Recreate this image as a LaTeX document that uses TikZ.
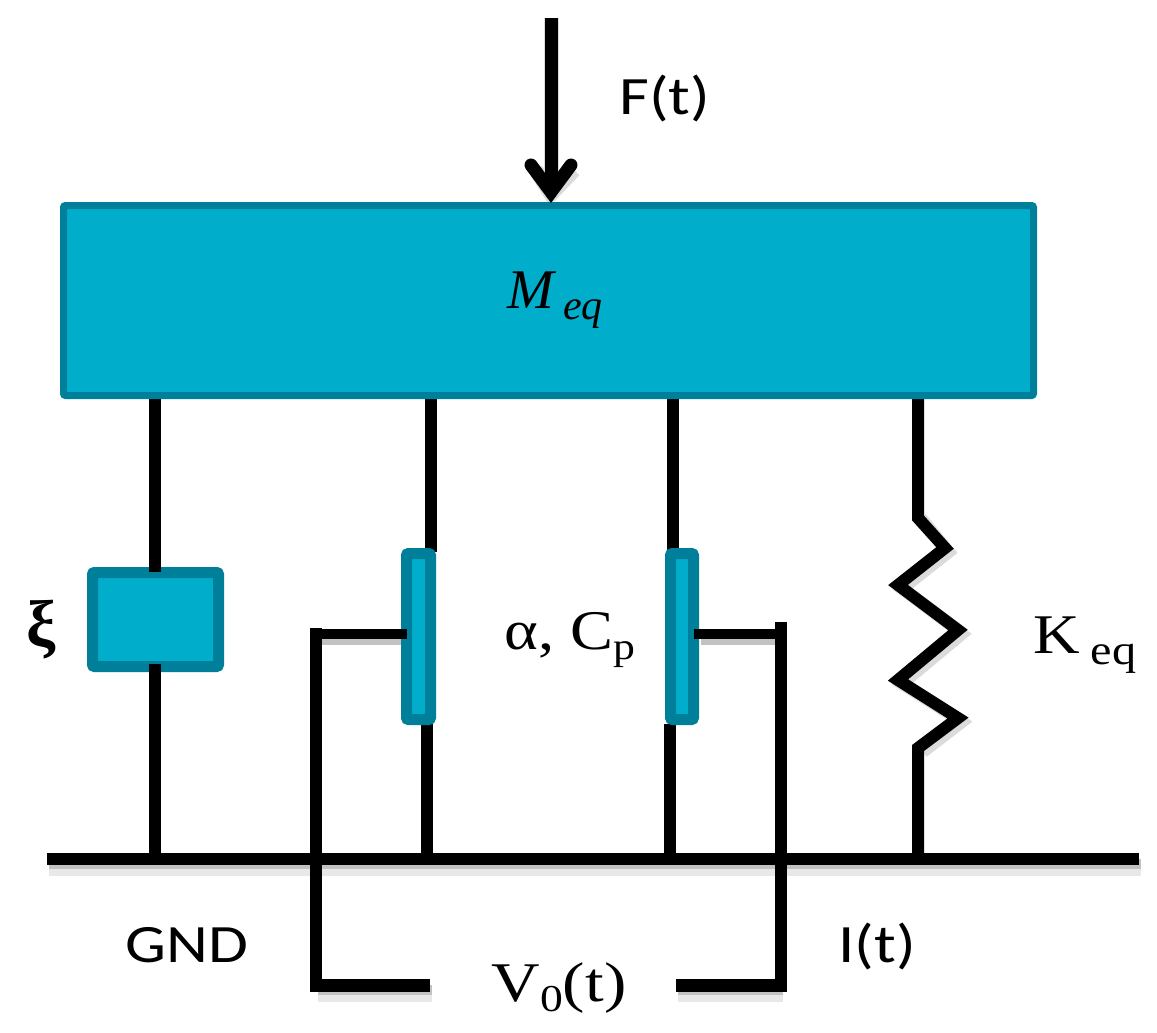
\documentclass[tikz,border=0pt]{standalone}
\usepackage{fontspec}
\setmainfont{Carlito}
\newfontfamily\mathser{Liberation Serif}
\definecolor{tealfill}{HTML}{00AECB}
\definecolor{tealedge}{HTML}{007F9A}
\newcommand{\widesans}[1]{\scalebox{1.2}[1]{#1}}
\begin{document}
\begin{tikzpicture}[x=1pt,y=-1pt,
  wire/.style={line width=12pt,black,line join=miter,line cap=butt},
  haze/.style={line width=15pt,black!9,line cap=butt},
  shade/.style={line width=10pt,black!24,line cap=butt},
  block/.style={draw=tealedge,fill=tealfill,line width=#1,rounded corners=2pt,inner sep=0pt,outer sep=0pt},
  lab/.style={inner sep=0pt,black},
  ser/.style={lab,font=\mathser\fontsize{56}{58}\selectfont},
  san/.style={lab,font=\fontsize{54}{56}\selectfont}]
\useasboundingbox (0,0) rectangle (1157,1033);
\fill[white] (0,0) rectangle (1157,1033);
% coordinates
\coordinate (forceTop) at (551,18);
\coordinate (forceTip) at (551,192);
\coordinate (gndL) at (47,859);
\coordinate (gndR) at (1139,859);
\coordinate (lTop) at (316,628);
\coordinate (lBot) at (316,985);
\coordinate (lEnd) at (430,985);
\coordinate (rTop) at (781,622);
\coordinate (rBot) at (781,985);
\coordinate (rEnd) at (676,985);
\coordinate (lArm) at (316,634);
\coordinate (rArm) at (781,634);
\coordinate (massD) at (155,396);
\coordinate (massL) at (431,396);
\coordinate (massR) at (673,396);
\coordinate (massK) at (918,396);
\coordinate (gD) at (155,859);
\coordinate (gL) at (427,859);
\coordinate (gR) at (670,859);
\coordinate (gK) at (918,859);
\coordinate (lArmEnd) at (402,634);
\coordinate (rArmEnd) at (698,634);
% soft drop shadows
\foreach \a/\b in {gndL/gndR,lEnd/lBot,rEnd/rBot}{
  \draw[haze] ([shift={(2,9)}]\a) -- ([shift={(2,9)}]\b);
  \draw[shade] ([shift={(2,5)}]\a) -- ([shift={(2,5)}]\b);
}
\draw[shade,line width=9pt] ([shift={(3,6)}]lArm) -- ([shift={(3,6)}]lArmEnd);
\draw[shade,line width=9pt] ([shift={(3,6)}]rArm) -- ([shift={(3,6)}]rArmEnd);
\draw[shade,line width=15pt,black!14] (forceTop) -- (551,190);
\draw[black!14,line width=15pt,line join=miter] (536,170) -- (551,194) -- (574,170);
\draw[black!14,line width=12pt,line join=miter] (921,518) -- (949,552) -- (902,589) -- (962,634) -- (902,684) -- (962,722) -- (923,752);
% wires
\draw[wire] (massD) -- (155,570);
\draw[wire] (massL) -- (431,552);
\draw[wire] (massR) -- (673,552);
\draw[wire] (427,724) -- (gL);
\draw[wire] (670,724) -- (gR);
\draw[wire] (massK) -- (918,518) -- (945,548) -- (898,585) -- (958,630) -- (898,680) -- (958,718) -- (918,748) -- (gK);
% mass
\node[block=7pt,minimum width=970pt,minimum height=190pt,anchor=north west] (mass) at (63.5,205.5) {};
\node[lab,font=\mathser\itshape\fontsize{56}{58}\selectfont] (meq) at (555,300) {M\,\raisebox{-11pt}{\fontsize{42}{44}\selectfont eq}};
% force arrow
\draw[line width=13pt,black] (forceTop) -- (551,188);
\draw[line width=13pt,black,line cap=round,line join=miter] (531,165) -- (forceTip) -- (571,165);
\node[san] (ft) at (665,98) {\widesans{F(t)}};
% damper
\node[block=11pt,minimum width=126pt,minimum height=94pt,anchor=north west] (damper) at (92.5,572.5) {};
\draw[wire] (155,566) -- (155,572);
\draw[wire] (155,664) -- (gD);
% capacitors
\node[block=11pt,minimum width=24pt,minimum height=166pt,anchor=north west] (capL) at (406.5,553.5) {};
\node[block=11pt,minimum width=23pt,minimum height=166pt,anchor=north west] (capR) at (670.5,553.5) {};
% ground and terminals
\draw[wire] (gndL) -- (gndR);
\draw[wire] (lTop) -- (lBot);
\draw[wire] (rTop) -- (rBot);
\draw[line width=13pt,line cap=butt] (lEnd) -- (310,985);
\draw[line width=13pt,line cap=butt] (rEnd) -- (787,985);
\draw[line width=10pt] (lArm) -- (lArm -| capL.west);
\draw[line width=10pt] (rArm) -- (rArm -| capR.east);
% labels
\node[lab,font=\mathser\bfseries\fontsize{66}{68}\selectfont] (xi) at (41,630) {ξ};
\node[ser] (alpha) at (570,640) {\scalebox{1.15}[1]{α, C\raisebox{-10pt}{\fontsize{38}{40}\selectfont p}}};
\node[ser] (keq) at (1085,645) {\scalebox{1.15}[1]{K\,\raisebox{-11pt}{\fontsize{42}{44}\selectfont eq}}};
\node[san] (gnd) at (187,945) {\widesans{GND}};
\node[ser] (vo) at (559,988) {\scalebox{1.2}[1]{V\raisebox{-10pt}{\fontsize{38}{40}\selectfont 0}(t)}};
\node[san] (it) at (877,946) {\widesans{I(t)}};
\end{tikzpicture}
\end{document}
